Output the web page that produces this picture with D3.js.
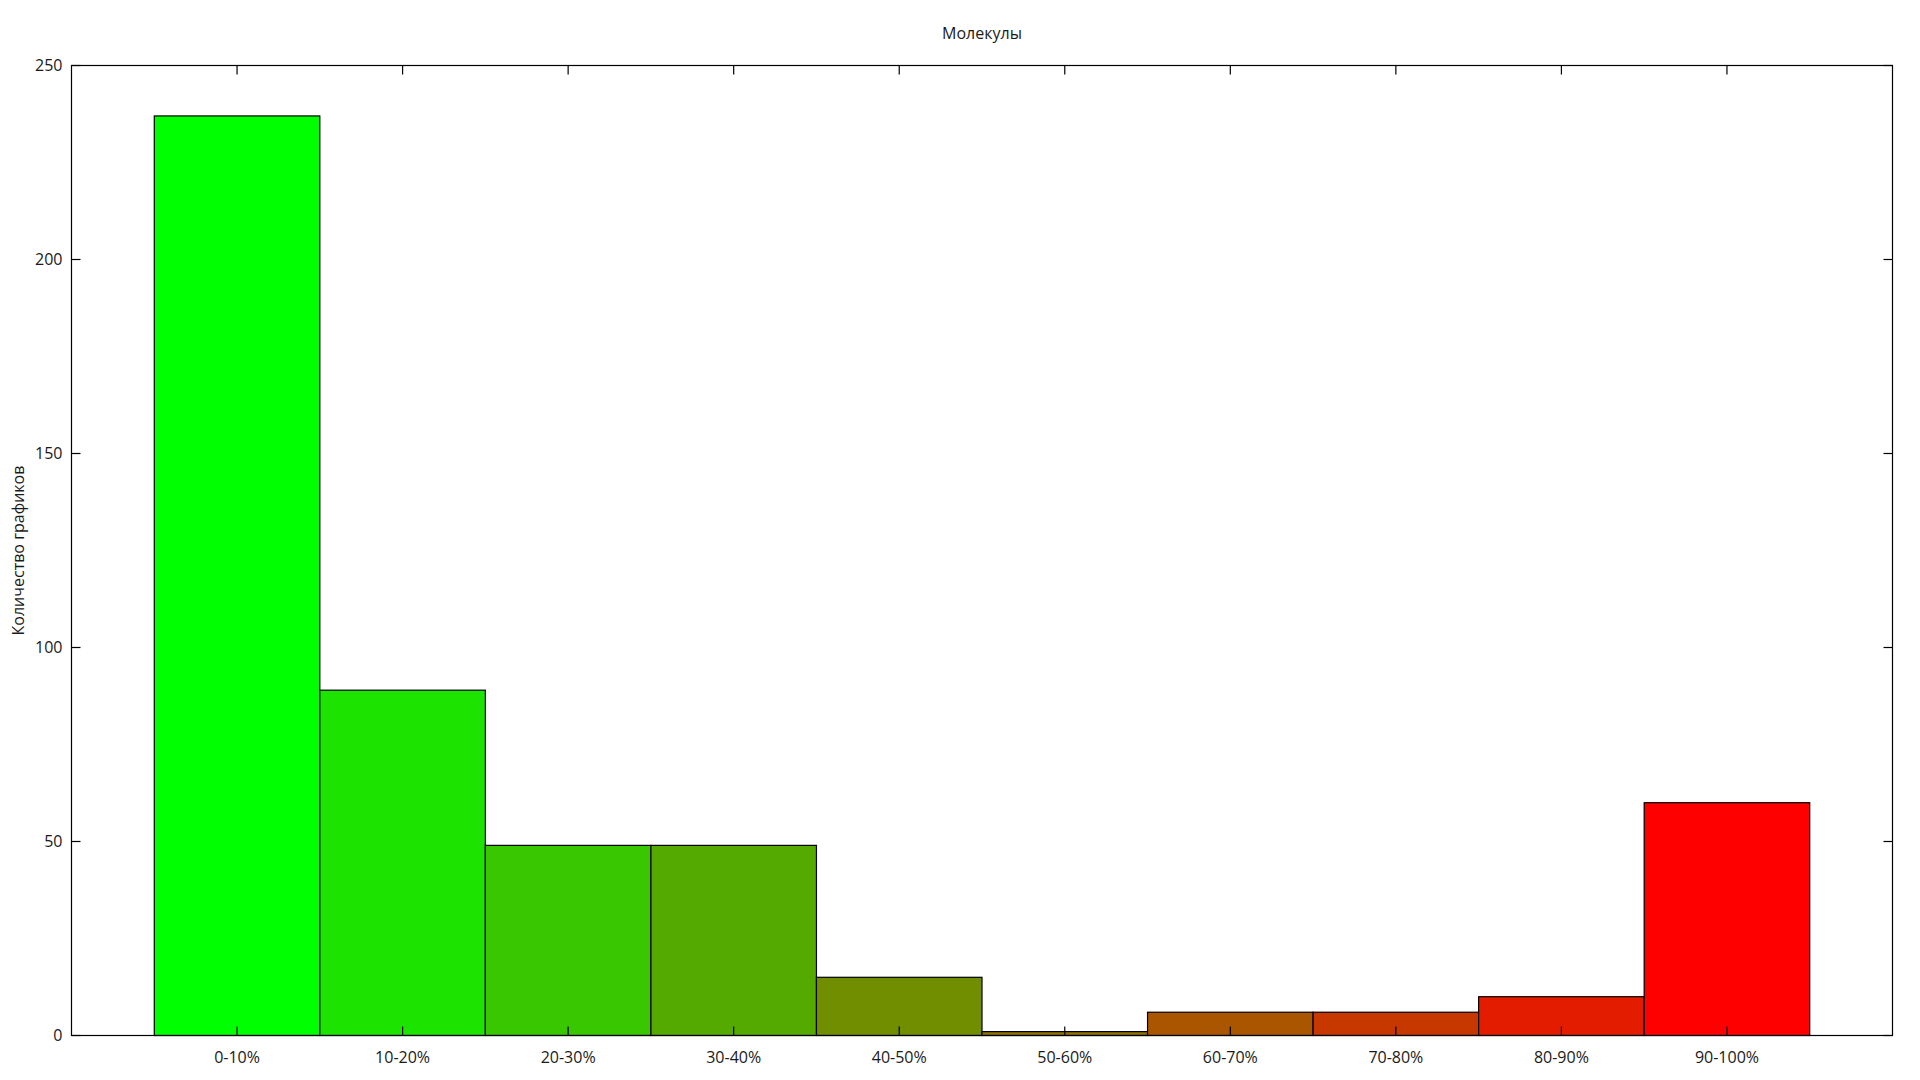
<!DOCTYPE html>
<html><head><meta charset="utf-8">
<script src="https://cdn.jsdelivr.net/npm/d3@7"></script>
<style>
html,body{margin:0;padding:0;background:#fff;}
svg{display:block;}
text{font-family:"Open Sans","Noto Sans",sans-serif;fill:#1a1a1a;}
</style></head>
<body>
<script>
const categories = ["0-10%","10-20%","20-30%","30-40%","40-50%","50-60%","60-70%","70-80%","80-90%","90-100%"];
const values = [237, 89, 49, 49, 15, 1, 6, 6, 10, 60];
const colors = ["#00ff00","#1ce300","#38c700","#55aa00","#718e00","#8e7100","#aa5500","#c63800","#e31c00","#ff0000"];
const yTicks = [0, 50, 100, 150, 200, 250];
const title = "Молекулы";
const yLabel = "Количество графиков";

const W = 1920, H = 1080;
const m = {left: 71.5, right: 1892.5, top: 65.5, bottom: 1035.5};
const svg = d3.select("body").append("svg").attr("width", W).attr("height", H);

const x = d3.scaleLinear().domain([-1, 10]).range([m.left, m.right]);
const y = d3.scaleLinear().domain([0, 250]).range([m.bottom, m.top]);

// bars
svg.append("g").selectAll("rect").data(values).join("rect")
  .attr("x", (d,i) => x(i - 0.5))
  .attr("width", (d,i) => x(i + 0.5) - x(i - 0.5))
  .attr("y", d => y(d))
  .attr("height", d => y(0) - y(d))
  .attr("fill", (d,i) => colors[i])
  .attr("stroke", "#000").attr("stroke-width", 1.2);

const tickLen = 9;
const g = svg.append("g").attr("stroke", "#000").attr("stroke-width", 1.2);
yTicks.forEach(t => {
  g.append("line").attr("x1", m.left).attr("x2", m.left + tickLen).attr("y1", y(t)).attr("y2", y(t));
  g.append("line").attr("x1", m.right).attr("x2", m.right - tickLen).attr("y1", y(t)).attr("y2", y(t));
});
categories.forEach((c,i) => {
  g.append("line").attr("x1", x(i)).attr("x2", x(i)).attr("y1", m.bottom).attr("y2", m.bottom - tickLen);
  g.append("line").attr("x1", x(i)).attr("x2", x(i)).attr("y1", m.top).attr("y2", m.top + tickLen);
});
svg.append("rect").attr("x", m.left).attr("y", m.top)
  .attr("width", m.right - m.left).attr("height", m.bottom - m.top)
  .attr("fill", "none").attr("stroke", "#000").attr("stroke-width", 1.2);

svg.append("g").selectAll("text").data(yTicks).join("text")
  .attr("x", m.left - 9).attr("y", d => y(d)).attr("dy", "0.35em")
  .attr("text-anchor", "end").style("font-size", "16px").text(d => d);

svg.append("g").selectAll("text").data(categories).join("text")
  .attr("x", (d,i) => x(i)).attr("y", 1063)
  .attr("text-anchor", "middle").style("font-size", "16px").text(d => d);

svg.append("text").attr("x", (m.left + m.right) / 2).attr("y", 39)
  .attr("text-anchor", "middle").style("font-size", "16px").text(title);

svg.append("text").attr("transform", `translate(24,${(m.top + m.bottom) / 2}) rotate(-90)`)
  .attr("text-anchor", "middle").style("font-size", "16px").text(yLabel);
</script>
</body></html>
